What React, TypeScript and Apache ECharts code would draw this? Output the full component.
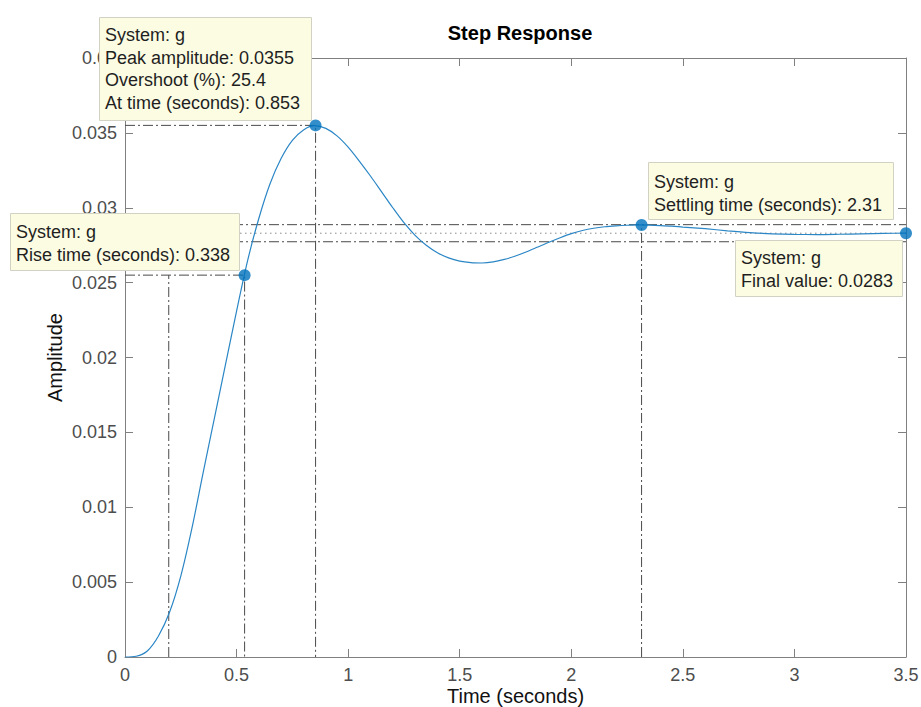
import React, { useEffect, useRef } from "react";
import * as echarts from "echarts";

// ---- data ----
const time = [
  0, 0.05, 0.1, 0.15, 0.2, 0.25, 0.3, 0.35, 0.4, 0.45, 0.5, 0.55, 0.6, 0.65, 0.7, 0.75, 0.8, 0.85, 0.9, 0.95,
  1.0, 1.05, 1.1, 1.15, 1.2, 1.25, 1.3, 1.35, 1.4, 1.45, 1.5, 1.55, 1.6, 1.65, 1.7, 1.75, 1.8, 1.85, 1.9, 1.95,
  2.0, 2.05, 2.1, 2.15, 2.2, 2.25, 2.3, 2.35, 2.4, 2.45, 2.5, 2.6, 2.7, 2.8, 2.9, 3.0, 3.1, 3.2, 3.3, 3.4, 3.5,
];
const amplitude = [
  0, 0.00005, 0.0004, 0.0014, 0.003, 0.0054, 0.0086, 0.0123, 0.0159, 0.0195, 0.0231, 0.0265, 0.0293, 0.0316,
  0.0333, 0.0345, 0.0352, 0.03548, 0.0353, 0.0348,
  0.03405, 0.03312, 0.03212, 0.03106, 0.03, 0.029, 0.02816, 0.0275, 0.027, 0.02665, 0.02643, 0.02633, 0.02631,
  0.02638, 0.02655, 0.02678, 0.02706, 0.02738, 0.0277, 0.028,
  0.02827, 0.02848, 0.02863, 0.02873, 0.02879, 0.02883, 0.02885, 0.02884, 0.02881, 0.02877, 0.02871, 0.0286,
  0.02846, 0.02834, 0.02826, 0.02822, 0.02821, 0.02823, 0.02826, 0.02829, 0.0283,
];

// characteristic points: rise end, peak, settling, final
const markerTimes = [0.536, 0.854, 2.315, 3.5];
const markerValues = [0.0255, 0.0355, 0.02885, 0.0283];

const riseStartTime = 0.196;
const riseLevel = 0.0255;
const riseEndTime = 0.536;
const peakTime = 0.854;
const peakValue = 0.0355;
const settlingTime = 2.315;
const settlingValue = 0.02885;
const bandUpper = 0.02887;
const bandLower = 0.02773;
const finalValue = 0.0283;

const xMin = 0;
const xMax = 3.5;
const xStep = 0.5;
const yMin = 0;
const yMax = 0.04;
const yStep = 0.005;

// datatip texts
const systemName = "g";
const peakAmplitudeText = "0.0355";
const overshootText = "25.4";
const peakTimeText = "0.853";
const riseTimeText = "0.338";
const settlingTimeText = "2.31";
const finalValueText = "0.0283";

const FONT = '"Liberation Sans", Arial, Helvetica, sans-serif';

export default function App() {
  const ref = useRef<HTMLDivElement>(null);

  useEffect(() => {
    document.body.style.margin = "0";
    if (!ref.current) return;
    const chart = echarts.init(ref.current, null, { renderer: "svg" });

    const dashDot = [10, 3, 2, 3];
    const refColor = "#4a4a4a";
    const refLine = (data: number[][], type: any = dashDot, color = refColor) => ({
      type: "line",
      data,
      symbol: "none",
      silent: true,
      lineStyle: { color, width: 1, type },
      z: 2,
    });

    const axisGrey = "#808080";
    const tickLabel = { color: "#4d4d4d", fontSize: 18, fontFamily: FONT };

    const boxes = [
      { x: 99, y: 17, w: 212, h: 103, tx: 105, ty: 24,
        text: `System: ${systemName}\nPeak amplitude: ${peakAmplitudeText}\nOvershoot (%): ${overshootText}\nAt time (seconds): ${peakTimeText}` },
      { x: 10, y: 213, w: 229, h: 57, tx: 16, ty: 221,
        text: `System: ${systemName}\nRise time (seconds): ${riseTimeText}` },
      { x: 648, y: 162, w: 245, h: 57, tx: 654, ty: 171,
        text: `System: ${systemName}\nSettling time (seconds): ${settlingTimeText}` },
      { x: 735, y: 240, w: 167, h: 56, tx: 741, ty: 247,
        text: `System: ${systemName}\nFinal value: ${finalValueText}` },
    ];

    const graphic: any[] = [];
    boxes.forEach((b) => {
      graphic.push({
        type: "rect",
        z: 100,
        shape: { x: b.x + 0.5, y: b.y + 0.5, width: b.w, height: b.h },
        style: { fill: "#fcfce3", stroke: "#d2d2c4", lineWidth: 1 },
      });
      graphic.push({
        type: "text",
        z: 101,
        x: b.tx,
        y: b.ty,
        style: {
          text: b.text,
          fill: "#1f1f1f",
          font: `18px ${FONT}`,
          lineHeight: 22.5,
          verticalAlign: "top",
          align: "left",
        },
      });
    });

    const fmt = (v: number) => String(+v.toFixed(4));

    chart.setOption({
      animation: false,
      backgroundColor: "#ffffff",
      title: {
        text: "Step Response",
        left: 515,
        top: 18,
        textAlign: "center",
        textStyle: { fontSize: 20, fontWeight: "bold", color: "#000", fontFamily: FONT },
      },
      grid: { left: 125, right: 15, top: 58, bottom: 50, containLabel: false, outerBoundsMode: "none" },
      xAxis: [
        {
          type: "value",
          position: "bottom",
          min: xMin,
          max: xMax,
          interval: xStep,
          name: "Time (seconds)",
          nameLocation: "middle",
          nameGap: 29,
          nameMoveOverlap: false,
          nameTextStyle: { color: "#111", fontSize: 20, fontFamily: FONT },
          axisLine: { show: true, onZero: false, lineStyle: { color: axisGrey, width: 1 } },
          axisTick: { show: true, inside: true, length: 8, lineStyle: { color: axisGrey } },
          axisLabel: { ...tickLabel, margin: 9, formatter: fmt },
          splitLine: { show: false },
        },
        {
          type: "value",
          position: "top",
          min: xMin,
          max: xMax,
          interval: xStep,
          axisLine: { show: true, onZero: false, lineStyle: { color: axisGrey, width: 1 } },
          axisTick: { show: true, inside: true, length: 8, lineStyle: { color: axisGrey } },
          axisLabel: { show: false },
          splitLine: { show: false },
        },
      ],
      yAxis: [
        {
          type: "value",
          position: "left",
          min: yMin,
          max: yMax,
          interval: yStep,
          name: "Amplitude",
          nameLocation: "middle",
          nameGap: 60,
          nameMoveOverlap: false,
          nameRotate: 90,
          nameTextStyle: { color: "#111", fontSize: 20, fontFamily: FONT },
          axisLine: { show: true, onZero: false, lineStyle: { color: axisGrey, width: 1 } },
          axisTick: { show: true, inside: true, length: 8, lineStyle: { color: axisGrey } },
          axisLabel: { ...tickLabel, margin: 8, formatter: fmt },
          splitLine: { show: false },
        },
        {
          type: "value",
          position: "right",
          min: yMin,
          max: yMax,
          interval: yStep,
          axisLine: { show: true, onZero: false, lineStyle: { color: axisGrey, width: 1 } },
          axisTick: { show: true, inside: true, length: 8, lineStyle: { color: axisGrey } },
          axisLabel: { show: false },
          splitLine: { show: false },
        },
      ],
      series: [
        // settling band and final value
        refLine([[xMin, bandUpper], [xMax, bandUpper]]),
        refLine([[xMin, bandLower], [xMax, bandLower]]),
        refLine([[xMin, finalValue], [xMax, finalValue]], [1.5, 3.5], "#8a8a8a"),
        // peak
        refLine([[xMin, peakValue], [peakTime, peakValue], [peakTime, yMin]]),
        // rise time
        refLine([[xMin, riseLevel], [riseEndTime, riseLevel], [riseEndTime, yMin]]),
        refLine([[riseStartTime, yMin], [riseStartTime, riseLevel]]),
        // settling time
        refLine([[settlingTime, yMin], [settlingTime, settlingValue]]),
        {
          type: "line",
          name: "g",
          data: time.map((t, i) => [t, amplitude[i]]),
          symbol: "none",
          smooth: 0.3,
          lineStyle: { color: "#2a86c5", width: 1.2 },
          z: 3,
        },
        {
          type: "scatter",
          data: markerTimes.map((t, i) => [t, markerValues[i]]),
          symbol: "circle",
          symbolSize: 12,
          itemStyle: { color: "#0072BD" },
          z: 4,
        },
      ],
      graphic,
    });

    return () => chart.dispose();
  }, []);

  return <div ref={ref} style={{ width: 921, height: 707 }} />;
}
